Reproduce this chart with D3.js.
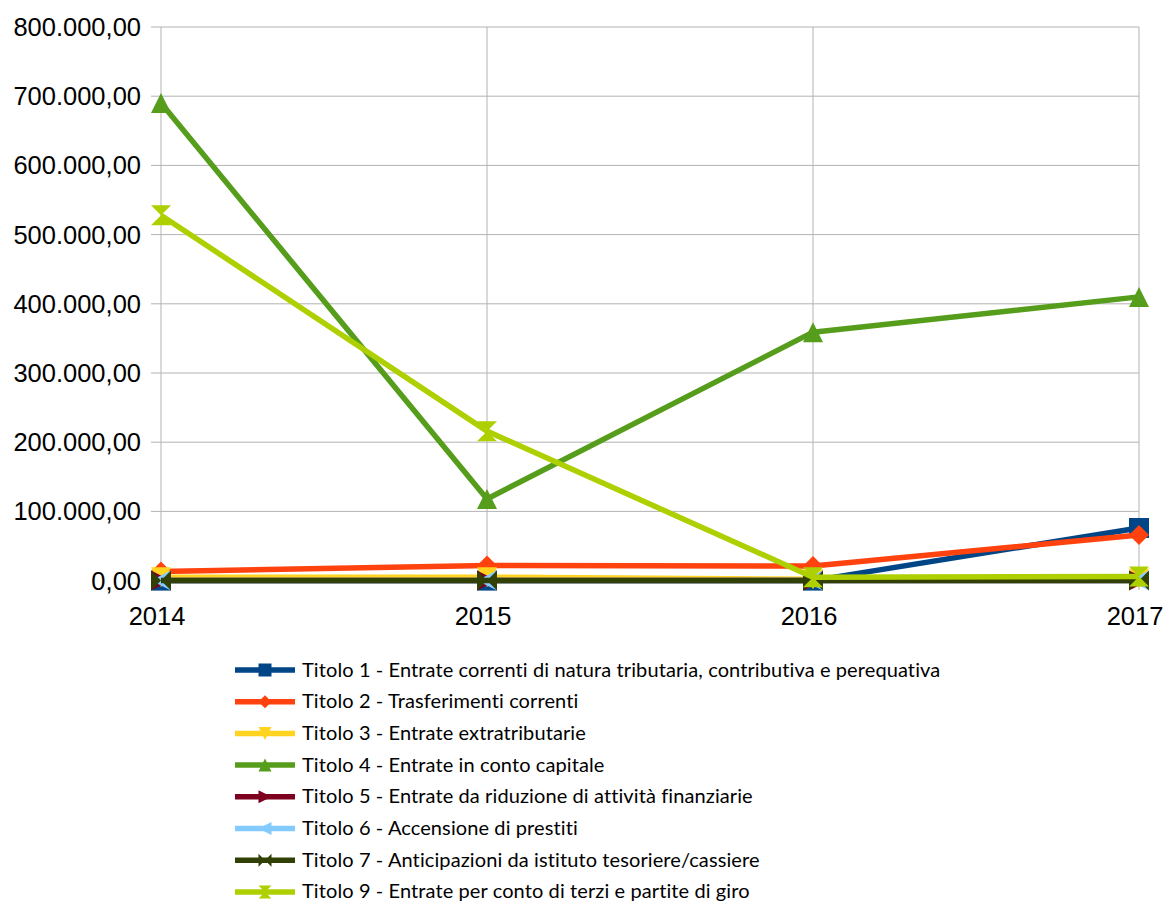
<!DOCTYPE html>
<html><head><meta charset="utf-8">
<script src="https://cdn.jsdelivr.net/npm/d3@7"></script>
<style>body{margin:0;background:#fff}svg{display:block}</style>
</head><body>
<svg id="c" width="1166" height="901"></svg>
<script>
const years = ["2014","2015","2016","2017"];
const seriesNames = [
 "Titolo 1 - Entrate correnti di natura tributaria, contributiva e perequativa",
 "Titolo 2 - Trasferimenti correnti",
 "Titolo 3 - Entrate extratributarie",
 "Titolo 4 - Entrate in conto capitale",
 "Titolo 5 - Entrate da riduzione di attività finanziarie",
 "Titolo 6 - Accensione di prestiti",
 "Titolo 7 - Anticipazioni da istituto tesoriere/cassiere",
 "Titolo 9 - Entrate per conto di terzi e partite di giro"
];
const titolo1 = [0, 0, 0, 76000];
const titolo2 = [13000, 22000, 21000, 66000];
const titolo3 = [5000, 5000, 2000, 3000];
const titolo4 = [690000, 118000, 359000, 410000];
const titolo5 = [0, 0, 0, 0];
const titolo6 = [0, 0, 0, 0];
const titolo7 = [0, 0, 0, 0];
const titolo9 = [528000, 216000, 5000, 6000];
const yTicks = [0,100000,200000,300000,400000,500000,600000,700000,800000];
const colors = ["#004586","#ff420e","#ffd320","#579d1c","#7e0021","#83caff","#314004","#aecf00"];
const markers = ["square","diamond","down","up","right","left","bowtie","hourglass"];
const allValues = [titolo1,titolo2,titolo3,titolo4,titolo5,titolo6,titolo7,titolo9];

const svg = d3.select("#c");
const x = d3.scalePoint().domain(years).range([161, 1139]);
const y = d3.scaleLinear().domain([0, 800000]).range([580.6, 27]);
const fmt = v => d3.format(",.2f")(v).replace(/,/g,"#").replace(/\./g,",").replace(/#/g,".");

// grid
svg.append("g").selectAll("line").data(yTicks).join("line")
  .attr("x1",151).attr("x2",1139).attr("y1",d=>y(d)).attr("y2",d=>y(d))
  .attr("stroke","#b3b3b3").attr("stroke-width",1);
svg.append("g").selectAll("line").data(years).join("line")
  .attr("x1",d=>x(d)).attr("x2",d=>x(d)).attr("y1",27).attr("y2",590)
  .attr("stroke","#b3b3b3").attr("stroke-width",1);

// y labels
svg.append("g").selectAll("text").data(yTicks).join("text")
  .attr("x",141).attr("y",d=>y(d)+9).attr("text-anchor","end")
  .attr("font-family","Liberation Sans, Arial, sans-serif").attr("font-size",25.5)
  .attr("fill","#000").text(fmt);
// x labels
svg.append("g").selectAll("text").data(years).join("text")
  .attr("x",d=>x(d)-4).attr("y",625).attr("text-anchor","middle")
  .attr("font-family","Liberation Sans, Arial, sans-serif").attr("font-size",25.5)
  .attr("fill","#000").text(d=>d);

function markerPath(type, s){
  const h = s/2;
  switch(type){
    case "square": return `M${-h},${-h}H${h}V${h}H${-h}Z`;
    case "diamond": return `M0,${-h}L${h},0L0,${h}L${-h},0Z`;
    case "down": return `M${-h},${-h}L${h},${-h}L0,${h}Z`;
    case "up": return `M${-h},${h}L${h},${h}L0,${-h}Z`;
    case "right": return `M${-h},${-h}L${h},0L${-h},${h}Z`;
    case "left": return `M${h},${-h}L${-h},0L${h},${h}Z`;
    case "bowtie": return `M${-h},${-h}L0,0L${-h},${h}Z M${h},${-h}L0,0L${h},${h}Z`;
    case "hourglass": return `M${-h},${-h}L${h},${-h}L0,0Z M${-h},${h}L${h},${h}L0,0Z`;
  }
}

const line = d3.line().x((d,i)=>x(years[i])).y(d=>y(d));
allValues.forEach((vals, k) => {
  const g = svg.append("g");
  g.append("path").attr("d", line(vals)).attr("fill","none")
    .attr("stroke", colors[k]).attr("stroke-width",5.5).attr("stroke-linejoin","round");
  g.selectAll("path.m").data(vals).join("path").attr("class","m")
    .attr("transform",(d,i)=>`translate(${x(years[i])},${y(d)})`)
    .attr("d", markerPath(markers[k], 20)).attr("fill", colors[k]);
});

// legend
const lg = svg.append("g");
seriesNames.forEach((name,k) => {
  const cy = 670 + k*31.7;
  lg.append("line").attr("x1",235).attr("x2",295).attr("y1",cy).attr("y2",cy)
    .attr("stroke",colors[k]).attr("stroke-width",5.5);
  lg.append("path").attr("transform",`translate(265,${cy})`)
    .attr("d", markerPath(markers[k], 13)).attr("fill",colors[k]);
  lg.append("text").attr("x",302).attr("y",cy+6.5).attr("font-family","Lato, Open Sans, sans-serif")
    .attr("font-size",20).attr("letter-spacing",0.1).attr("fill","#000").text(name);
});
</script>
</body></html>
